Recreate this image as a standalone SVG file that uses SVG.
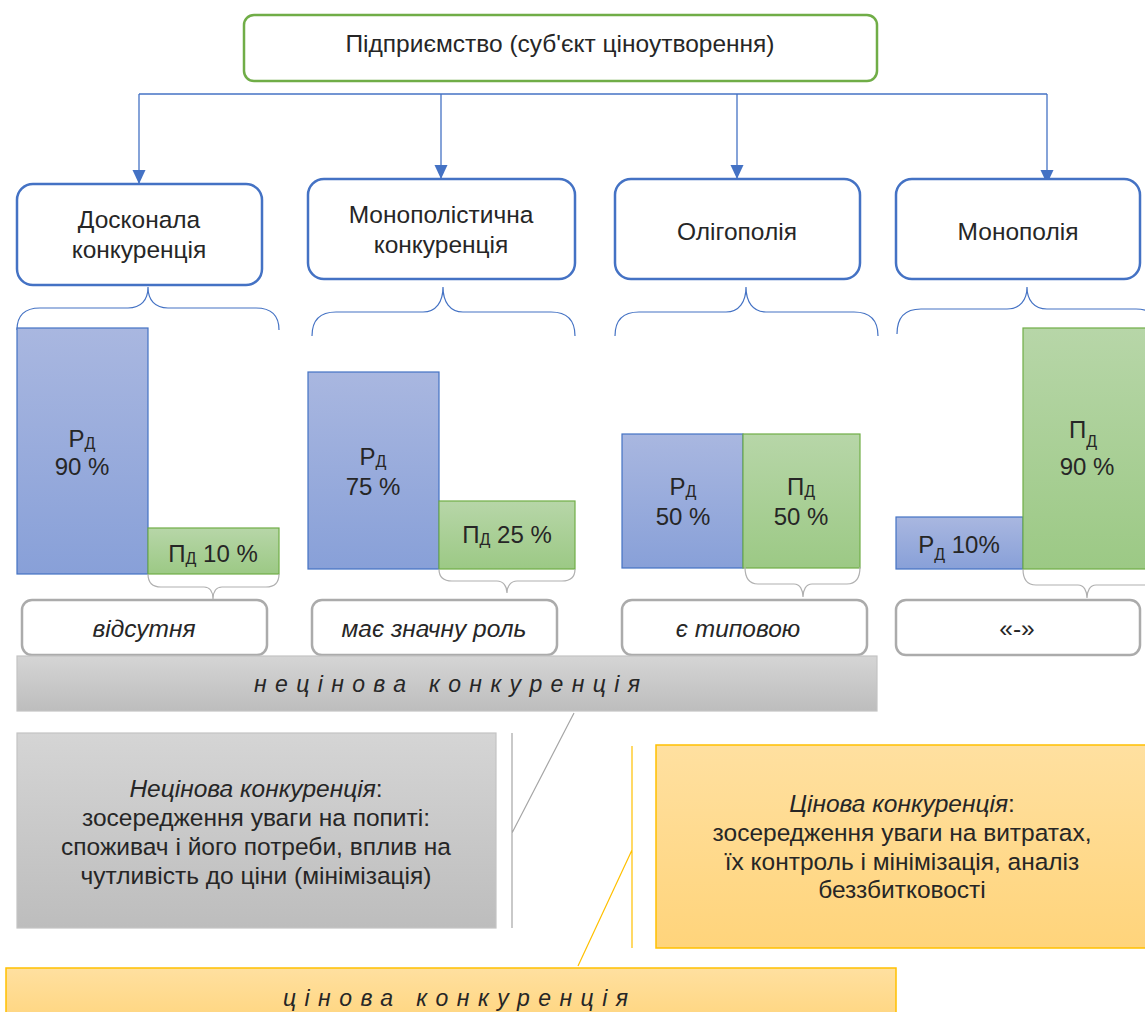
<svg xmlns="http://www.w3.org/2000/svg" width="1145" height="1012" viewBox="0 0 1145 1012">
<style>
text{font-family:"Liberation Sans",Arial,sans-serif;fill:#262626}
.t{font-size:24.5px;text-anchor:middle}
.tb{font-size:24px;text-anchor:middle}
.it{font-style:italic}
.node{fill:#fff;stroke:#4472C4;stroke-width:2.5}
.lab{fill:#fff;stroke:#ABABAB;stroke-width:2.5}
.conn{fill:none;stroke:#4472C4;stroke-width:1.3}
.bb{fill:none;stroke:#4472C4;stroke-width:1.2}
.gb{fill:none;stroke:#B0B0B0;stroke-width:1.2}
.bar-b{fill:url(#gb);stroke:#4472C4;stroke-width:1.2}
.bar-g{fill:url(#gg);stroke:#70AD47;stroke-width:1.2}
.sub{font-size:16px}
.band{font-size:23px;font-style:italic}
</style>
<defs>
<linearGradient id="gb" x1="0" y1="0" x2="0" y2="1"><stop offset="0" stop-color="#A9B7E0"/><stop offset="1" stop-color="#88A0D8"/></linearGradient>
<linearGradient id="gg" x1="0" y1="0" x2="0" y2="1"><stop offset="0" stop-color="#B7D6A8"/><stop offset="1" stop-color="#9CC985"/></linearGradient>
<linearGradient id="ggray" x1="0" y1="0" x2="0" y2="1"><stop offset="0" stop-color="#D5D5D5"/><stop offset="1" stop-color="#BDBDBD"/></linearGradient>
<linearGradient id="gy" x1="0" y1="0" x2="0" y2="1"><stop offset="0" stop-color="#FFE0A0"/><stop offset="1" stop-color="#FFD47B"/></linearGradient>
<marker id="arr" markerWidth="14" markerHeight="14" refX="13" refY="7" orient="auto" markerUnits="userSpaceOnUse"><path d="M0,0.5 L14,7 L0,13.5 z" fill="#4472C4"/></marker>
</defs>

<g id="connectors">
<path class="conn" d="M139,94 H1047"/>
<path class="conn" d="M139,94 V183" marker-end="url(#arr)"/>
<path class="conn" d="M441,94 V178" marker-end="url(#arr)"/>
<path class="conn" d="M737,94 V178" marker-end="url(#arr)"/>
<path class="conn" d="M1047,94 V183" marker-end="url(#arr)"/>
</g>

<g id="enterprise">
<rect x="244" y="15" width="633" height="66" rx="10" fill="#fff" stroke="#70AD47" stroke-width="2.5"/>
<text class="t" x="560" y="52">Підприємство (суб'єкт ціноутворення)</text>
</g>

<g id="perfect">
<rect class="node" x="17" y="184" width="245" height="101" rx="16"/>
<text class="t" x="139" y="228">Досконала</text>
<text class="t" x="139" y="258">конкуренція</text>
</g>
<g id="monopolistic">
<rect class="node" x="308" y="179" width="267" height="100" rx="16"/>
<text class="t" x="441" y="223">Монополістична</text>
<text class="t" x="441" y="253">конкуренція</text>
</g>
<g id="oligopoly">
<rect class="node" x="615" y="179" width="245" height="100" rx="16"/>
<text class="t" x="737" y="240">Олігополія</text>
</g>
<g id="monopoly">
<rect class="node" x="896" y="179" width="244" height="100" rx="16"/>
<text class="t" x="1018" y="240">Монополія</text>
</g>

<g id="braces-top">
<path class="bb" d="M17,330 C17,316 24,308 40,308 L128,308 C141,308 148,300 148,287 C148,300 155,308 168,308 L256,308 C272,308 279,316 279,330"/>
<path class="bb" d="M312,336 C312,321 319,312 336,312 L423,312 C436,312 443,302 443,287 C443,302 450,312 463,312 L551,312 C568,312 575,321 575,336"/>
<path class="bb" d="M615,336 C615,321 622,312 639,312 L726,312 C739,312 746,302 746,287 C746,302 753,312 766,312 L854,312 C871,312 878,321 878,336"/>
<path class="bb" d="M897,334 C897,319 904,309 921,309 L1007,309 C1020,309 1027,300 1027,287 C1027,300 1034,309 1047,309 L1136,309 C1153,309 1160,319 1160,334"/>
</g>

<g id="bars-perfect">
<rect class="bar-b" x="17" y="328" width="131" height="246"/>
<rect class="bar-g" x="148" y="528" width="131" height="46"/>
<text class="tb" x="82" y="447">Р<tspan class="sub" dy="2">Д</tspan></text>
<text class="tb" x="82" y="475">90 %</text>
<text class="tb" x="213" y="562">П<tspan class="sub" dy="2">Д</tspan><tspan dy="-2"> 10 %</tspan></text>
</g>
<g id="bars-monopolistic">
<rect class="bar-b" x="308" y="372" width="131" height="197"/>
<rect class="bar-g" x="439" y="501" width="136" height="68"/>
<text class="tb" x="373" y="465">Р<tspan class="sub" dy="2">Д</tspan></text>
<text class="tb" x="373" y="495">75 %</text>
<text class="tb" x="507" y="543">П<tspan class="sub" dy="2">Д</tspan><tspan dy="-2"> 25 %</tspan></text>
</g>
<g id="bars-oligopoly">
<rect class="bar-b" x="622" y="434" width="121" height="134"/>
<rect class="bar-g" x="743" y="434" width="117" height="134"/>
<text class="tb" x="683" y="495">Р<tspan class="sub" dy="2">Д</tspan></text>
<text class="tb" x="683" y="525">50 %</text>
<text class="tb" x="801" y="495">П<tspan class="sub" dy="2">Д</tspan></text>
<text class="tb" x="801" y="525">50 %</text>
</g>
<g id="bars-monopoly">
<rect class="bar-b" x="896" y="517" width="127" height="52"/>
<rect class="bar-g" x="1023" y="328" width="130" height="241"/>
<text class="tb" x="959" y="553">Р<tspan class="sub" dy="7">Д</tspan><tspan dy="-7"> 10%</tspan></text>
<text class="tb" x="1083" y="438">П<tspan class="sub" dy="9">Д</tspan></text>
<text class="tb" x="1087" y="475">90 %</text>
</g>

<g id="braces-bottom">
<path class="gb" d="M148,574 C148,583 152,587 161,587 L204,587 C210,587 213,592 213,599 C213,592 216,587 222,587 L266,587 C275,587 279,583 279,574"/>
<path class="gb" d="M439,569 C439,577 443,581 452,581 L497,581 C503,581 507,586 507,593 C507,586 511,581 517,581 L562,581 C571,581 575,577 575,569"/>
<path class="gb" d="M745,567 C745,578 749,584 758,584 L794,584 C800,584 803,590 803,597 C803,590 806,584 812,584 L847,584 C856,584 860,578 860,567"/>
<path class="gb" d="M1023,569 C1023,579 1027,585 1036,585 L1078,585 C1084,585 1087,591 1087,598 C1087,591 1090,585 1096,585 L1147,585 C1156,585 1160,579 1160,569"/>
</g>

<g id="label-perfect">
<rect class="lab" x="22" y="600" width="245" height="55" rx="10"/>
<text class="t it" x="144" y="637">відсутня</text>
</g>
<g id="label-monopolistic">
<rect class="lab" x="312" y="600" width="245" height="55" rx="10"/>
<text class="t it" x="434" y="637">має значну роль</text>
</g>
<g id="label-oligopoly">
<rect class="lab" x="622" y="600" width="245" height="55" rx="10"/>
<text class="t it" x="738" y="637">є типовою</text>
</g>
<g id="label-monopoly">
<rect class="lab" x="896" y="600" width="244" height="55" rx="10"/>
<text class="t" x="1017" y="637">«-»</text>
</g>

<g id="nonprice-band">
<rect x="17" y="656" width="860" height="55" fill="url(#ggray)" stroke="#C4C4C4" stroke-width="1.2"/>
<text class="band" x="254" y="692" textLength="386" lengthAdjust="spacing">нецінова конкуренція</text>
</g>

<g id="nonprice-box">
<rect x="17" y="733" width="479" height="195" fill="url(#ggray)" stroke="#C4C4C4" stroke-width="1.2"/>
<text class="t" x="256" y="797"><tspan class="it">Нецінова конкуренція</tspan>:</text>
<text class="t" x="256" y="826">зосередження уваги на попиті:</text>
<text class="t" x="256" y="855">споживач і його потреби, вплив на</text>
<text class="t" x="256" y="884">чутливість до ціни (мінімізація)</text>
</g>

<g id="callouts">
<path d="M512,733 V928 M512,833 L574,713" fill="none" stroke="#A6A6A6" stroke-width="1.2"/>
<path d="M632,746 V948 M632,850 L578,966" fill="none" stroke="#FFC000" stroke-width="1.2"/>
</g>

<g id="price-box">
<rect x="656" y="745" width="495" height="203" fill="url(#gy)" stroke="#FFC000" stroke-width="1.5"/>
<text class="t" x="902" y="812"><tspan class="it">Цінова конкуренція</tspan>:</text>
<text class="t" x="902" y="841">зосередження уваги на витратах,</text>
<text class="t" x="902" y="870">їх контроль і мінімізація, аналіз</text>
<text class="t" x="902" y="898">беззбитковості</text>
</g>

<g id="price-band">
<rect x="6" y="968" width="890" height="60" fill="url(#gy)" stroke="#FFC000" stroke-width="1.5"/>
<text class="band" x="283" y="1006" textLength="345" lengthAdjust="spacing">цінова конкуренція</text>
</g>
</svg>
